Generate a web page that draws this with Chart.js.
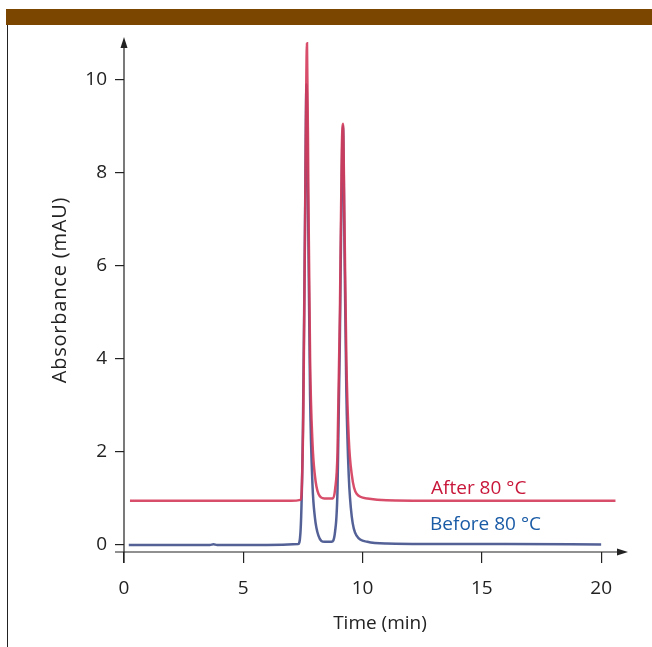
<!DOCTYPE html>
<html>
<head>
<meta charset="utf-8">
<script src="https://cdn.jsdelivr.net/npm/chart.js@4"></script>
<style>
  body { margin: 0; background: #fff; }
  #bar { position: absolute; left: 6px; top: 9px; width: 646px; height: 16px; background: #7b4700; }
  #rule { position: absolute; left: 7px; top: 25px; width: 1px; height: 622px; background: #222; }
  #wrap { position: absolute; left: 0; top: 0; }
</style>
</head>
<body>
<div id="bar"></div>
<div id="rule"></div>
<div id="wrap"><canvas id="chromatogram" width="652" height="647"></canvas></div>
<script>
// retention time (min) and absorbance (mAU)
var afterTime   = [0.25, 2, 4, 6, 7.0, 7.4, 7.45, 7.52, 7.6, 7.67, 7.73, 7.8, 7.9, 8.0, 8.15, 8.4, 8.75, 8.85, 8.95, 9.05, 9.13, 9.18, 9.24, 9.32, 9.42, 9.55, 9.75, 10.2, 11, 13, 16, 20, 20.6];
var afterValues = [0.95, 0.95, 0.95, 0.95, 0.95, 0.97, 1.2, 3.0, 7.5, 10.78, 7.5, 4.0, 2.2, 1.5, 1.1, 1.0, 1.0, 1.2, 2.0, 5.0, 8.5, 9.05, 7.0, 4.0, 2.3, 1.5, 1.1, 1.0, 0.96, 0.95, 0.95, 0.95, 0.95];

var beforeTime   = [0.2, 2, 3.6, 3.75, 3.9, 6, 7.3, 7.4, 7.5, 7.58, 7.65, 7.72, 7.8, 7.9, 8.0, 8.15, 8.4, 8.7, 8.85, 8.95, 9.05, 9.13, 9.18, 9.24, 9.32, 9.42, 9.55, 9.75, 10.2, 11, 13, 16, 20];
var beforeValues = [0.0, 0.0, 0.0, 0.015, 0.0, 0.0, 0.02, 0.3, 2.5, 6.5, 9.9, 7.0, 3.2, 1.3, 0.6, 0.2, 0.07, 0.07, 0.3, 1.2, 4.5, 8.0, 9.0, 6.5, 3.3, 1.5, 0.6, 0.2, 0.07, 0.03, 0.02, 0.02, 0.01];

var xTicks = [0, 5, 10, 15, 20];
var yTicks = [0, 2, 4, 6, 8, 10];

var afterColor = "rgba(212, 58, 90, 0.9)";
var beforeColor = "rgba(64, 80, 140, 0.9)";
var ink = "#222";
var font = "'Open Sans', 'Noto Sans', sans-serif";

function pairs(xs, ys) {
	var out = [];
	for (var i = 0; i < xs.length; i++) {
		out.push({ x: xs[i], y: ys[i] });
	}
	return out;
}

// axis lines with arrow heads, axis titles and the series labels
var decorations = {
	id: "decorations",
	afterDraw: function(chart) {
		var c = chart.ctx;
		var a = chart.chartArea;
		var xs = chart.scales.x;
		var ys = chart.scales.y;
		c.save();
		c.strokeStyle = ink;
		c.fillStyle = ink;
		c.lineWidth = 1.2;
		c.beginPath();
		c.moveTo(a.left, a.top + 4);
		c.lineTo(a.left, a.bottom + 11);
		c.moveTo(a.left - 9, a.bottom);
		c.lineTo(a.right - 4, a.bottom);
		c.stroke();
		// arrow heads
		c.beginPath();
		c.moveTo(a.left, a.top - 3);
		c.lineTo(a.left - 3.5, a.top + 8);
		c.lineTo(a.left + 3.5, a.top + 8);
		c.closePath();
		c.fill();
		c.beginPath();
		c.moveTo(a.right + 3, a.bottom);
		c.lineTo(a.right - 8, a.bottom - 3.5);
		c.lineTo(a.right - 8, a.bottom + 3.5);
		c.closePath();
		c.fill();

		c.font = "19px " + font;
		c.textAlign = "center";
		c.textBaseline = "middle";
		c.fillText("Time (min)", 380, 624);
		c.save();
		c.translate(60, 290);
		c.rotate(-Math.PI / 2);
		c.font = "20px " + font;
		c.letterSpacing = "0.8px";
		c.fillText("Absorbance (mAU)", 0, 0);
		c.restore();

		c.font = "19px " + font;
		c.textAlign = "left";
		c.fillStyle = "#c8173a";
		c.fillText("After 80 °C", xs.getPixelForValue(12.87), ys.getPixelForValue(1.22));
		c.fillStyle = "#1a5ba6";
		c.fillText("Before 80 °C", xs.getPixelForValue(12.83), ys.getPixelForValue(0.43));
		c.restore();
	}
};

var ctx = document.getElementById("chromatogram");

var chart = new Chart(ctx, {
	type: "line",
	data: {
		datasets: [
			{
				label: "After 80 °C",
				data: pairs(afterTime, afterValues),
				borderColor: afterColor,
				borderWidth: 2.5,
				pointRadius: 0,
				fill: false,
				cubicInterpolationMode: "monotone"
			},
			{
				label: "Before 80 °C",
				data: pairs(beforeTime, beforeValues),
				borderColor: beforeColor,
				borderWidth: 2.5,
				pointRadius: 0,
				fill: false,
				cubicInterpolationMode: "monotone"
			}
		]
	},
	options: {
		responsive: false,
		animation: false,
		layout: { padding: { left: 0, top: 40, right: 27, bottom: 0 } },
		plugins: {
			legend: { display: false },
			tooltip: { enabled: false }
		},
		scales: {
			x: {
				type: "linear",
				min: 0,
				max: 21,
				afterFit: function(axis) { axis.height = 95; },
				afterBuildTicks: function(axis) {
					axis.ticks = xTicks.map(function(v) { return { value: v }; });
				},
				border: { display: false },
				grid: { drawOnChartArea: false, drawTicks: true, tickLength: 11, color: ink, lineWidth: 1.2 },
				ticks: { color: ink, padding: 14, maxRotation: 0, font: { size: 19, family: font } }
			},
			y: {
				type: "linear",
				min: -0.15,
				max: 10.85,
				afterFit: function(axis) { axis.width = 124; },
				afterBuildTicks: function(axis) {
					axis.ticks = yTicks.map(function(v) { return { value: v }; });
				},
				border: { display: false },
				grid: { drawOnChartArea: false, drawTicks: true, tickLength: 9, color: ink, lineWidth: 1.2 },
				ticks: { color: ink, padding: 8, font: { size: 19, family: font } }
			}
		}
	},
	plugins: [decorations]
});
</script>
</body>
</html>
